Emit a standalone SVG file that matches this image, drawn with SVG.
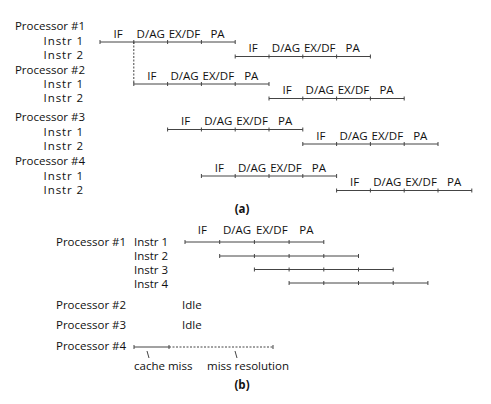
<svg xmlns="http://www.w3.org/2000/svg" width="491" height="404" viewBox="0 0 491 404">
<style>
text{font-family:"Open Sans","Liberation Sans",Arial,sans-serif;fill:#111;font-size:11.5px}
.st{text-anchor:middle}
.r{text-anchor:end}
.ia{text-anchor:end;letter-spacing:0.9px}
.cap{font-weight:bold;text-anchor:middle}
.tl{fill:none;stroke:#444;stroke-width:1}
.dash{fill:none;stroke:#444;stroke-width:1;stroke-dasharray:2 1.5}
</style>
<rect width="491" height="404" fill="#fff"/>
<g id="part-a">
 <g id="a-labels">
  <text x="85" y="30" class="r">Processor #1</text>
  <text x="84" y="44.5" class="ia">Instr 1</text>
  <text x="84" y="59" class="ia">Instr 2</text>
  <text x="85" y="73.5" class="r">Processor #2</text>
  <text x="84" y="88" class="ia">Instr 1</text>
  <text x="84" y="102" class="ia">Instr 2</text>
  <text x="85" y="121" class="r">Processor #3</text>
  <text x="84" y="135.5" class="ia">Instr 1</text>
  <text x="84" y="150" class="ia">Instr 2</text>
  <text x="85" y="165" class="r">Processor #4</text>
  <text x="84" y="179.5" class="ia">Instr 1</text>
  <text x="84" y="194" class="ia">Instr 2</text>
 </g>
 <g id="a-p1i1">
  <path class="tl" d="M100 42H235.2M100 40v4M133.8 40v4M167.6 40v4M201.4 40v4M235.2 40v4"/>
  <text class="st" x="118" y="37.5">IF</text><text class="st" x="150.7" y="37.5">D/AG</text><text class="st" x="184.5" y="37.5">EX/DF</text><text class="st" x="217.5" y="37.5">PA</text>
 </g>
 <g id="a-p1i2">
  <path class="tl" d="M235.2 56.5H370.4M235.2 54.5v4M269 54.5v4M302.8 54.5v4M336.6 54.5v4M370.4 54.5v4"/>
  <text class="st" x="253" y="52">IF</text><text class="st" x="285.9" y="52">D/AG</text><text class="st" x="319.7" y="52">EX/DF</text><text class="st" x="352.7" y="52">PA</text>
 </g>
 <g id="a-p2i1">
  <path class="tl" d="M133.8 84H269M133.8 82v4M167.6 82v4M201.4 82v4M235.2 82v4M269 82v4"/>
  <text class="st" x="151.8" y="79.5">IF</text><text class="st" x="184.5" y="79.5">D/AG</text><text class="st" x="218.3" y="79.5">EX/DF</text><text class="st" x="251.3" y="79.5">PA</text>
 </g>
 <g id="a-p2i2">
  <path class="tl" d="M269 98.5H404.2M269 96.5v4M302.8 96.5v4M336.6 96.5v4M370.4 96.5v4M404.2 96.5v4"/>
  <text class="st" x="287" y="94">IF</text><text class="st" x="319.7" y="94">D/AG</text><text class="st" x="353.5" y="94">EX/DF</text><text class="st" x="386.5" y="94">PA</text>
 </g>
 <g id="a-p3i1">
  <path class="tl" d="M167.6 129.5H302.8M167.6 127.5v4M201.4 127.5v4M235.2 127.5v4M269 127.5v4M302.8 127.5v4"/>
  <text class="st" x="185.6" y="125">IF</text><text class="st" x="218.3" y="125">D/AG</text><text class="st" x="252.1" y="125">EX/DF</text><text class="st" x="285.1" y="125">PA</text>
 </g>
 <g id="a-p3i2">
  <path class="tl" d="M302.8 144H438M302.8 142v4M336.6 142v4M370.4 142v4M404.2 142v4M438 142v4"/>
  <text class="st" x="320.8" y="139.5">IF</text><text class="st" x="353.5" y="139.5">D/AG</text><text class="st" x="387.3" y="139.5">EX/DF</text><text class="st" x="420.3" y="139.5">PA</text>
 </g>
 <g id="a-p4i1">
  <path class="tl" d="M201.4 176H336.6M201.4 174v4M235.2 174v4M269 174v4M302.8 174v4M336.6 174v4"/>
  <text class="st" x="219.4" y="171.5">IF</text><text class="st" x="252.1" y="171.5">D/AG</text><text class="st" x="285.9" y="171.5">EX/DF</text><text class="st" x="318.9" y="171.5">PA</text>
 </g>
 <g id="a-p4i2">
  <path class="tl" d="M336.6 190.5H471.8M336.6 188.5v4M370.4 188.5v4M404.2 188.5v4M438 188.5v4M471.8 188.5v4"/>
  <text class="st" x="354.6" y="186">IF</text><text class="st" x="387.3" y="186">D/AG</text><text class="st" x="421.1" y="186">EX/DF</text><text class="st" x="454.1" y="186">PA</text>
 </g>
 <g id="a-connectors">
  <path class="dash" d="M133.8 42V84"/>
 </g>
 <text class="cap" x="242" y="213">(a)</text>
</g>
<g id="part-b">
 <g id="b-labels">
  <text x="56" y="246">Processor #1</text>
  <text x="134" y="246">Instr 1</text>
  <text x="134" y="260">Instr 2</text>
  <text x="134" y="274">Instr 3</text>
  <text x="134" y="288">Instr 4</text>
  <text x="56" y="309">Processor #2</text>
  <text x="182" y="309">Idle</text>
  <text x="56" y="329">Processor #3</text>
  <text x="182" y="329">Idle</text>
  <text x="56" y="350">Processor #4</text>
 </g>
 <g id="b-stages">
  <text class="st" x="202.4" y="234">IF</text><text class="st" x="237" y="234">D/AG</text><text class="st" x="271.8" y="234">EX/DF</text><text class="st" x="306.4" y="234">PA</text>
 </g>
 <g id="b-i1"><path class="tl" d="M185 242H323.8M185 240v4M219.7 240v4M254.4 240v4M289.1 240v4M323.8 240v4"/></g>
 <g id="b-i2"><path class="tl" d="M219.7 256H358.5M219.7 254v4M254.4 254v4M289.1 254v4M323.8 254v4M358.5 254v4"/></g>
 <g id="b-i3"><path class="tl" d="M254.4 269.5H393.2M254.4 267.5v4M289.1 267.5v4M323.8 267.5v4M358.5 267.5v4M393.2 267.5v4"/></g>
 <g id="b-i4"><path class="tl" d="M289.1 283H427.9M289.1 281v4M323.8 281v4M358.5 281v4M393.2 281v4M427.9 281v4"/></g>
 <g id="b-p4">
  <path class="tl" d="M134 347H169M134 345v4M169 345v4M273 345v4"/>
  <path class="dash" d="M169 347H273"/>
  <path class="tl" d="M147 351L149 358M235 351L237 358"/>
  <text x="134" y="369.5">cache miss</text>
  <text x="207" y="369.5">miss resolution</text>
 </g>
 <text class="cap" x="242" y="389">(b)</text>
</g>
</svg>
